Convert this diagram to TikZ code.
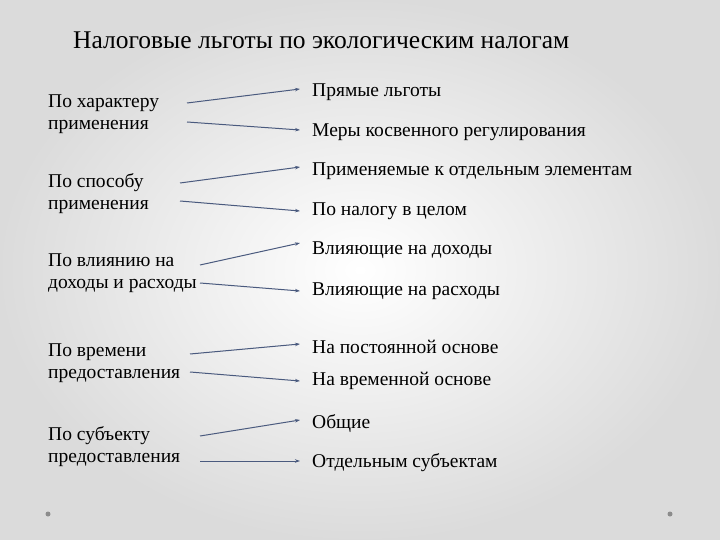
\documentclass[tikz,border=0pt]{standalone}
\usepackage{fontspec}
\setmainfont{Liberation Serif}
\usetikzlibrary{arrows.meta}
\definecolor{arrc}{HTML}{4A5A7E}
\begin{document}
\begin{tikzpicture}[x=1pt,y=-1pt,
  lt/.style={anchor=west,align=left,font=\fontsize{19.5}{22}\selectfont,inner sep=0pt},
  rt/.style={anchor=west,font=\fontsize{19.5}{22}\selectfont,inner sep=0pt},
  arr/.style={draw=arrc,line width=1pt,-{Stealth[length=5pt,width=3.5pt]}}]
\shade[inner color=white,outer color=black!14] (0,0) rectangle (720,540);
\useasboundingbox (0,0) rectangle (720,540);
\node[anchor=west,inner sep=0pt,font=\fontsize{25.5}{28}\selectfont] (title) at (73,40) {Налоговые льготы по экологическим налогам};
\node[lt] (l1) at (48,114) {По характеру\\применения};
\node[lt] (l2) at (48,194) {По способу\\применения};
\node[lt] (l3) at (48,273) {По влиянию на\\доходы и расходы};
\node[lt] (l4) at (48,363) {По времени\\предоставления};
\node[lt] (l5) at (48,447) {По субъекту\\предоставления};
\node[rt] (r1a) at (312,92) {Прямые льготы};
\node[rt] (r1b) at (312,132) {Меры косвенного регулирования};
\node[rt] (r2a) at (312,171) {Применяемые к отдельным элементам};
\node[rt] (r2b) at (312,211) {По налогу в целом};
\node[rt] (r3a) at (312,250) {Влияющие на доходы};
\node[rt] (r3b) at (312,291) {Влияющие на расходы};
\node[rt] (r4a) at (312,347) {На постоянной основе};
\node[rt] (r4b) at (312,381) {На временной основе};
\node[rt] (r5a) at (312,424) {Общие};
\node[rt] (r5b) at (312,463) {Отдельным субъектам};
\foreach \n/\xa/\ya/\xb/\yb in {1a/187/103/300/89, 1b/187/122/300/130, 2a/180/183/300/167, 2b/180/201/300/211, 3a/200/265/300/243, 3b/200/283/300/291, 4a/190/354/300/344, 4b/190/372/300/381, 5a/200/436/300/420, 5b/200/461/300/461}{
  \coordinate (s\n) at (\xa,\ya);
  \coordinate (e\n) at (\xb,\yb);
  \draw[arr] (s\n) -- (e\n);
}
\fill[black!45] (48,514) circle (2.5);
\fill[black!45] (670,514) circle (2.5);
\end{tikzpicture}
\end{document}
